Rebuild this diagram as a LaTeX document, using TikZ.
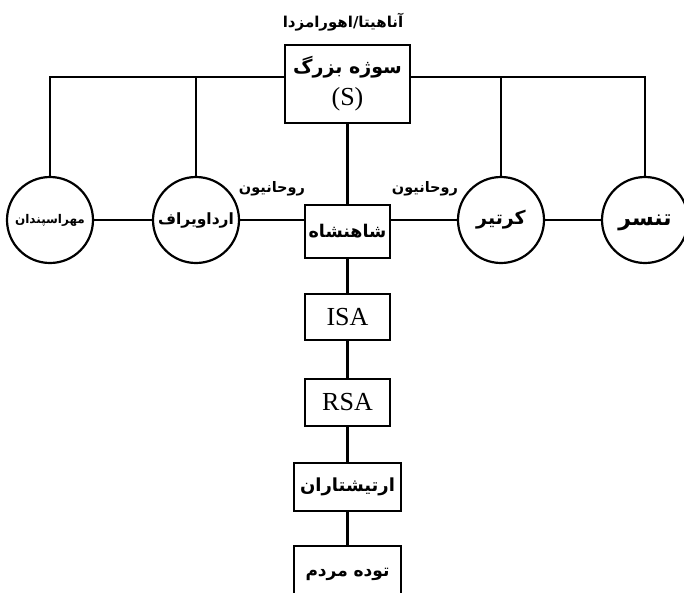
\documentclass[tikz,border=0pt]{standalone}
\usepackage{fontspec}
\setmainfont{Liberation Serif}
\newfontfamily\fa[Script=Arabic]{DejaVu Sans}
\TeXXeTstate=1
\newcommand{\fat}[1]{{\fa\bfseries\beginR #1\endR}}
\newcommand{\fsz}[1]{\fontsize{#1}{#1}\selectfont}
\begin{document}
\begin{tikzpicture}[x=1pt,y=-1pt,
  box/.style={draw,line width=2.6pt,rectangle,inner sep=0pt,align=center},
  circ/.style={draw,line width=2.2pt,circle,minimum size=86pt,inner sep=0pt},
  conn/.style={line width=2.2pt},
  lbl/.style={inner sep=0pt}]
\useasboundingbox (0,0) rectangle (684,592);
% top label
\node[lbl,font=\fsz{15}] (god) at (343,22) {\fat{آناهیتا/اهورامزدا}};
% top box
\node[box,minimum width=125pt,minimum height=78pt,font=\fontsize{26}{32}\selectfont] (S) at (347.5,84)
  {{\fsz{19}\fat{سوژه بزرگ}}\\(S)};
% circles
\node[circ,font=\fsz{12}] (mehr) at (50,220) {\fat{مهراسپندان}};
\node[circ,font=\fsz{15.5}] (ard) at (196,220) {\fat{ارداویراف}};
\node[circ,font=\fsz{19}] (kar) at (501,220) {\raisebox{-4.5pt}[0pt][0pt]{\fat{کرتیر}}};
\node[circ,font=\fsz{22}] (tan) at (645,220) {\raisebox{-5.5pt}[0pt][0pt]{\fat{تنسر}}};
% central column
\node[box,minimum width=85pt,minimum height=53pt,font=\fsz{17.5}] (shah) at (347.5,231.5) {\fat{شاهنشاه}};
\node[box,minimum width=85pt,minimum height=46pt,font=\fsz{26}] (isa) at (347.5,317) {ISA};
\node[box,minimum width=85pt,minimum height=47pt,font=\fsz{26}] (rsa) at (347.5,402.5) {RSA};
\node[box,minimum width=107pt,minimum height=48pt,font=\fsz{18}] (art) at (347.5,487) {\fat{ارتیشتاران}};
\node[box,minimum width=107pt,minimum height=56pt,font=\fsz{17}] (tude) at (347.5,574) {\fat{توده مردم}};
% clergy labels
\node[lbl,font=\fsz{14.5}] (rl) at (272,189) {\fat{روحانیون}};
\node[lbl,font=\fsz{14.5}] (rr) at (425,189) {\fat{روحانیون}};
% top bus
\coordinate (busL) at (50,77);
\coordinate (busR) at (645,77);
\coordinate (busA) at (196,77);
\coordinate (busK) at (501,77);
\draw[conn] (mehr.north) -- (busL) -- (S.west |- busL);
\draw[conn] (S.east |- busR) -- (busR) -- (tan.north);
\draw[conn] (busA) -- (ard.north);
\draw[conn] (busK) -- (kar.north);
% middle row
\draw[conn] (mehr.east) -- (ard.west);
\draw[conn] (ard.east) -- (ard.east -| shah.west);
\draw[conn] (kar.west -| shah.east) -- (kar.west);
\draw[conn] (kar.east) -- (tan.west);
% column
\draw[conn] (S.south) -- (shah.north);
\draw[conn] (shah.south) -- (isa.north);
\draw[conn] (isa.south) -- (rsa.north);
\draw[conn] (rsa.south) -- (art.north);
\draw[conn] (art.south) -- (tude.north);
\end{tikzpicture}
\end{document}
